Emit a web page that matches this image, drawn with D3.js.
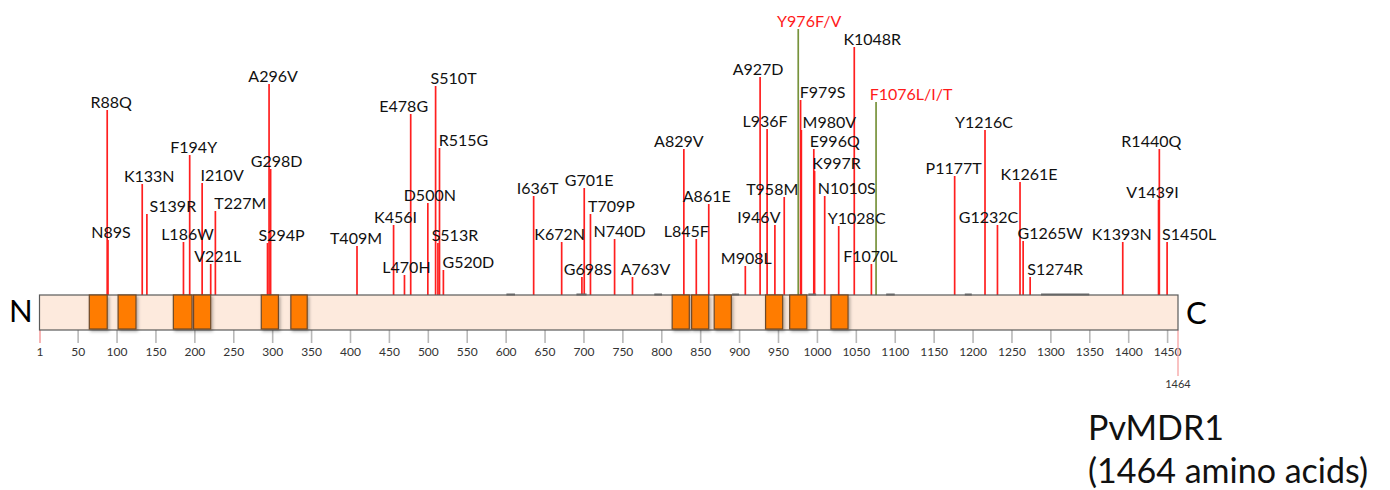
<!DOCTYPE html>
<html>
<head>
<meta charset="utf-8">
<script src="https://cdn.jsdelivr.net/npm/d3@7/dist/d3.min.js"></script>
<style>
  html, body { margin: 0; padding: 0; background: #fff; }
  svg { display: block; font-family: Lato, "Noto Sans", sans-serif; }
</style>
</head>
<body>
<svg id="chart" width="1390" height="490"></svg>
<script>
// Protein length and axis ticks
const PROTEIN_LENGTH = 1464;
const tickValues = [1, 50, 100, 150, 200, 250, 300, 350, 400, 450, 500, 550, 600, 650, 700,
  750, 800, 850, 900, 950, 1000, 1050, 1100, 1150, 1200, 1250, 1300, 1350, 1400, 1450];

// Transmembrane domains (residue ranges)
const domainStarts = [65, 102, 173, 199, 286, 324, 814, 839, 868, 934, 965, 1018];
const domainEnds   = [88, 125, 197, 221, 308, 345, 836, 861, 890, 956, 987, 1040];

// Small marks along the top edge of the protein bar (residue ranges)
const markStarts = [601, 691, 791, 891, 989, 1089, 1190, 1288];
const markEnds   = [612, 704, 801, 900, 999, 1100, 1199, 1350];

// Mutations: label, residue, stem height (arbitrary units)
const mutationNames = ['R88Q', 'N89S', 'K133N', 'S139R', 'L186W', 'F194Y', 'I210V', 'V221L', 'T227M',
  'S294P', 'A296V', 'G298D', 'T409M', 'K456I', 'L470H', 'E478G', 'D500N', 'S510T', 'S513R', 'R515G',
  'G520D', 'I636T', 'K672N', 'G698S', 'G701E', 'T709P', 'N740D', 'A763V', 'A829V', 'L845F', 'A861E',
  'M908L', 'A927D', 'L936F', 'I946V', 'T958M', 'Y976F/V', 'F979S', 'M980V', 'E996Q', 'K997R',
  'N1010S', 'Y1028C', 'K1048R', 'F1070L', 'F1076L/I/T', 'P1177T', 'Y1216C', 'G1232C', 'K1261E',
  'G1265W', 'S1274R', 'K1393N', 'V1439I', 'R1440Q', 'S1450L'];
const mutationPos = [88, 89, 133, 139, 186, 194, 210, 221, 227,
  294, 296, 298, 409, 456, 470, 478, 500, 510, 513, 515,
  520, 636, 672, 698, 701, 709, 740, 763, 829, 845, 861,
  908, 927, 936, 946, 958, 976, 979, 980, 996, 997,
  1010, 1028, 1048, 1070, 1076, 1177, 1216, 1232, 1261,
  1265, 1274, 1393, 1439, 1440, 1450];
const stemHeights = [185, 55, 111, 81, 53, 140, 112, 31, 84,
  52, 211, 126, 49, 70, 20, 181, 92, 209, 52, 147,
  25, 99, 53, 18, 107, 81, 56, 18, 146, 56, 91,
  29, 218, 166, 70, 98, 266, 195, 165, 146, 124,
  99, 69, 248, 31, 193, 119, 165, 70, 113,
  54, 18, 53, 95, 146, 53];
// Resistance-associated mutations drawn in the highlight style
const highlighted = ['Y976F/V', 'F1076L/I/T'];

// Label nudges (px) so labels sit where they do in the figure
const labelDx = [4, 3, 7, 26, 4, 4, 20, 7, 25,
  14, 4, 6, -1, 2, 2, -7, 2, 18, 17, 24,
  25, 4, -2, 6, 5, 21, 5, 13, -5, -10, -2,
  1, -2, -2, -16, -12, 11, 22, 28, 21, 22,
  22, 18, 18, -1, 35, -1, -1, -9, 9,
  27, 25, -1, -6, -8, 22];

const BAR_TOP = 295;
const BAR_BOTTOM = 330;
const STEM_RED = '#ff1f1f';
const STEM_GREEN = '#77933c';

const svg = d3.select('#chart');

const x = d3.scaleLinear().domain([1, PROTEIN_LENGTH]).range([39.5, 1178]);
const y = d3.scaleLinear().domain([0, 300]).range([BAR_TOP, BAR_TOP - 300]);

// Soft shadow for the domain boxes
const defs = svg.append('defs');
defs.append('filter')
  .attr('id', 'shadow')
  .attr('x', '-30%').attr('y', '-30%').attr('width', '160%').attr('height', '160%')
  .append('feDropShadow')
  .attr('dx', 1.5).attr('dy', 2).attr('stdDeviation', 1.5)
  .attr('flood-color', '#000').attr('flood-opacity', 0.3);

const mutations = mutationNames.map((name, i) => ({
  name,
  pos: mutationPos[i],
  h: stemHeights[i],
  dx: labelDx[i],
  hot: highlighted.includes(name)
}));

// Stems
svg.append('g').attr('class', 'stems')
  .selectAll('line')
  .data(mutations)
  .join('line')
  .attr('x1', d => x(d.pos))
  .attr('x2', d => x(d.pos))
  .attr('y1', BAR_TOP)
  .attr('y2', d => y(d.h))
  .attr('stroke', d => d.hot ? STEM_GREEN : STEM_RED)
  .attr('stroke-width', 1.7);

// Labels
svg.append('g').attr('class', 'labels')
  .selectAll('text')
  .data(mutations)
  .join('text')
  .attr('x', d => x(d.pos) + d.dx)
  .attr('y', d => y(d.h) - 2)
  .attr('text-anchor', 'middle')
  .attr('font-size', '16px')
  .attr('fill', d => d.hot ? '#ff1a1a' : '#111')
  .text(d => d.name);

// Axis ticks under the bar
const axis = d3.axisBottom(x)
  .tickValues(tickValues)
  .tickSize(13)
  .tickPadding(4)
  .tickFormat(d3.format('d'));

const axisG = svg.append('g')
  .attr('transform', `translate(0,${BAR_BOTTOM})`)
  .call(axis);
axisG.select('.domain').remove();
axisG.selectAll('.tick line')
  .attr('stroke', d => d === 1 ? '#f5a3a3' : '#b8b8b8')
  .attr('stroke-width', 1.6);
axisG.selectAll('.tick text')
  .attr('font-family', 'Lato, "Noto Sans", sans-serif')
  .attr('font-size', '12px')
  .attr('fill', '#333');

// Protein end marker
const endG = svg.append('g')
  .attr('transform', `translate(${x(PROTEIN_LENGTH)},${BAR_BOTTOM})`);
endG.append('line')
  .attr('y1', 0).attr('y2', 46)
  .attr('stroke', '#f7a8a8')
  .attr('stroke-width', 1.4);
endG.append('text')
  .attr('y', 58)
  .attr('text-anchor', 'middle')
  .attr('font-size', '11px')
  .attr('fill', '#333')
  .text(PROTEIN_LENGTH);

// Protein bar
svg.append('rect')
  .attr('x', x(1))
  .attr('y', BAR_TOP)
  .attr('width', x(PROTEIN_LENGTH) - x(1))
  .attr('height', BAR_BOTTOM - BAR_TOP)
  .attr('fill', '#fdeadd')
  .attr('stroke', '#5a5a5a')
  .attr('stroke-width', 1.2);

// Top-edge marks
svg.append('g').attr('class', 'marks')
  .selectAll('line')
  .data(markStarts.map((s, i) => [s, markEnds[i]]))
  .join('line')
  .attr('x1', d => x(d[0]))
  .attr('x2', d => x(d[1]))
  .attr('y1', BAR_TOP - 0.5)
  .attr('y2', BAR_TOP - 0.5)
  .attr('stroke', '#666')
  .attr('stroke-width', 2);

// Transmembrane domains
svg.append('g').attr('class', 'domains')
  .selectAll('rect')
  .data(domainStarts.map((s, i) => [s, domainEnds[i]]))
  .join('rect')
  .attr('x', d => x(d[0]))
  .attr('y', BAR_TOP)
  .attr('width', d => x(d[1]) - x(d[0]))
  .attr('height', BAR_BOTTOM - BAR_TOP - 1)
  .attr('fill', '#ff7b00')
  .attr('stroke', '#6e4a2a')
  .attr('stroke-width', 1.2)
  .attr('filter', 'url(#shadow)');

// Terminus letters
svg.append('text')
  .attr('x', 9).attr('y', 322)
  .attr('font-size', '31px')
  .attr('fill', '#000')
  .text('N');
svg.append('text')
  .attr('x', 1186).attr('y', 324)
  .attr('font-size', '31px')
  .attr('fill', '#000')
  .text('C');

// Title
const title = svg.append('text')
  .attr('x', 1088)
  .attr('font-size', '34px')
  .attr('fill', '#111');
title.append('tspan').attr('x', 1088).attr('y', 440).text('PvMDR1');
title.append('tspan').attr('x', 1088).attr('y', 483).text('(1464 amino acids)');
</script>
</body>
</html>
